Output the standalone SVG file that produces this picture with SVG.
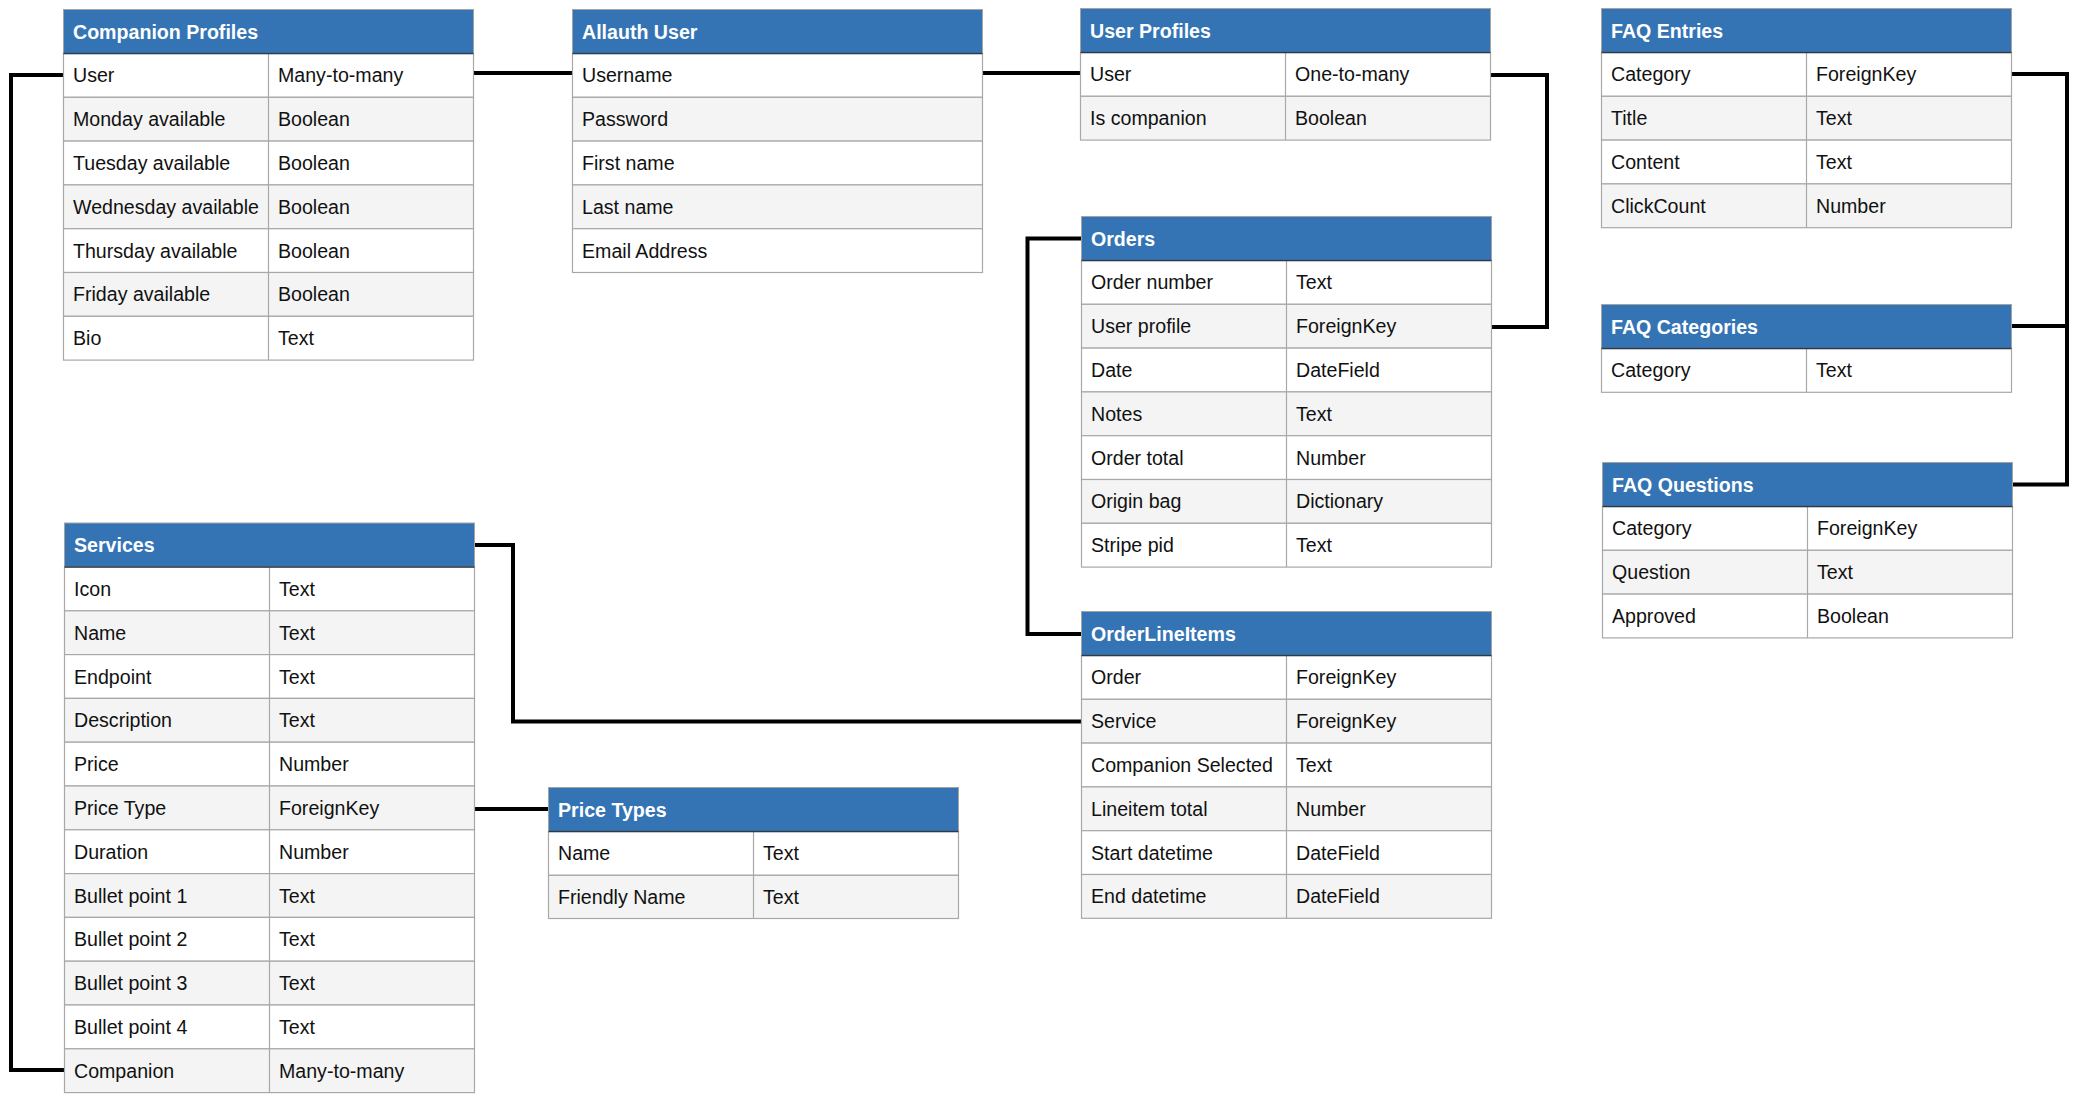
<svg xmlns="http://www.w3.org/2000/svg" width="2080" height="1106" viewBox="0 0 2080 1106">
<style>
.hdr{fill:#3474b5;stroke:#a3a3a3;stroke-width:1}
.hl{stroke:#2d3a48;stroke-width:1.3}
.ra{fill:#ffffff;stroke:#a8a8a8;stroke-width:1.2}
.rb{fill:#f4f4f4;stroke:#a8a8a8;stroke-width:1.2}
.dv{stroke:#a8a8a8;stroke-width:1.2}
.ht{font-family:"Liberation Sans",Arial,Helvetica,sans-serif;font-size:19.6px;font-weight:bold;fill:#ffffff}
.t{font-family:"Liberation Sans",Arial,Helvetica,sans-serif;font-size:19.6px;fill:#111111}
.c{fill:none;stroke:#000000;stroke-width:4;stroke-linejoin:miter}
</style>
<rect width="2080" height="1106" fill="#ffffff"/>
<g id="connectors">
<path class="c" d="M63,75 H11 V1070 H64"/>
<path class="c" d="M473,73 H572"/>
<path class="c" d="M983,73 H1080"/>
<path class="c" d="M1491,75 H1547 V327 H1491"/>
<path class="c" d="M1081,238.5 H1027.5 V634 H1081"/>
<path class="c" d="M474,545 H513 V721.5 H1081"/>
<path class="c" d="M474,809 H548"/>
<path class="c" d="M2012,74 H2067 V484.5 H2012"/>
<path class="c" d="M2011,326 H2067"/>
</g>
<g id="companion-profiles" transform="translate(63.5,9.5)">
<rect class="hdr" width="410" height="44"/>
<rect class="ra" y="44" width="410" height="43.8"/>
<rect class="rb" y="87.8" width="410" height="43.8"/>
<rect class="ra" y="131.6" width="410" height="43.8"/>
<rect class="rb" y="175.4" width="410" height="43.8"/>
<rect class="ra" y="219.2" width="410" height="43.8"/>
<rect class="rb" y="263" width="410" height="43.8"/>
<rect class="ra" y="306.8" width="410" height="43.8"/>
<line class="dv" x1="205" y1="44" x2="205" y2="350.6"/>
<line class="hl" x1="0" y1="44" x2="410" y2="44"/>
<text class="ht" x="9.5" y="29">Companion Profiles</text>
<text class="t" x="9.5" y="72.9">User</text><text class="t" x="214.5" y="72.9">Many-to-many</text>
<text class="t" x="9.5" y="116.7">Monday available</text><text class="t" x="214.5" y="116.7">Boolean</text>
<text class="t" x="9.5" y="160.5">Tuesday available</text><text class="t" x="214.5" y="160.5">Boolean</text>
<text class="t" x="9.5" y="204.3">Wednesday available</text><text class="t" x="214.5" y="204.3">Boolean</text>
<text class="t" x="9.5" y="248.1">Thursday available</text><text class="t" x="214.5" y="248.1">Boolean</text>
<text class="t" x="9.5" y="291.9">Friday available</text><text class="t" x="214.5" y="291.9">Boolean</text>
<text class="t" x="9.5" y="335.7">Bio</text><text class="t" x="214.5" y="335.7">Text</text>
</g>
<g id="allauth-user" transform="translate(572.5,9.5)">
<rect class="hdr" width="410" height="44"/>
<rect class="ra" y="44" width="410" height="43.8"/>
<rect class="rb" y="87.8" width="410" height="43.8"/>
<rect class="ra" y="131.6" width="410" height="43.8"/>
<rect class="rb" y="175.4" width="410" height="43.8"/>
<rect class="ra" y="219.2" width="410" height="43.8"/>
<line class="hl" x1="0" y1="44" x2="410" y2="44"/>
<text class="ht" x="9.5" y="29">Allauth User</text>
<text class="t" x="9.5" y="72.9">Username</text>
<text class="t" x="9.5" y="116.7">Password</text>
<text class="t" x="9.5" y="160.5">First name</text>
<text class="t" x="9.5" y="204.3">Last name</text>
<text class="t" x="9.5" y="248.1">Email Address</text>
</g>
<g id="user-profiles" transform="translate(1080.5,8.5)">
<rect class="hdr" width="410" height="44"/>
<rect class="ra" y="44" width="410" height="43.8"/>
<rect class="rb" y="87.8" width="410" height="43.8"/>
<line class="dv" x1="205" y1="44" x2="205" y2="131.6"/>
<line class="hl" x1="0" y1="44" x2="410" y2="44"/>
<text class="ht" x="9.5" y="29">User Profiles</text>
<text class="t" x="9.5" y="72.9">User</text><text class="t" x="214.5" y="72.9">One-to-many</text>
<text class="t" x="9.5" y="116.7">Is companion</text><text class="t" x="214.5" y="116.7">Boolean</text>
</g>
<g id="orders" transform="translate(1081.5,216.5)">
<rect class="hdr" width="410" height="44"/>
<rect class="ra" y="44" width="410" height="43.8"/>
<rect class="rb" y="87.8" width="410" height="43.8"/>
<rect class="ra" y="131.6" width="410" height="43.8"/>
<rect class="rb" y="175.4" width="410" height="43.8"/>
<rect class="ra" y="219.2" width="410" height="43.8"/>
<rect class="rb" y="263" width="410" height="43.8"/>
<rect class="ra" y="306.8" width="410" height="43.8"/>
<line class="dv" x1="205" y1="44" x2="205" y2="350.6"/>
<line class="hl" x1="0" y1="44" x2="410" y2="44"/>
<text class="ht" x="9.5" y="29">Orders</text>
<text class="t" x="9.5" y="72.9">Order number</text><text class="t" x="214.5" y="72.9">Text</text>
<text class="t" x="9.5" y="116.7">User profile</text><text class="t" x="214.5" y="116.7">ForeignKey</text>
<text class="t" x="9.5" y="160.5">Date</text><text class="t" x="214.5" y="160.5">DateField</text>
<text class="t" x="9.5" y="204.3">Notes</text><text class="t" x="214.5" y="204.3">Text</text>
<text class="t" x="9.5" y="248.1">Order total</text><text class="t" x="214.5" y="248.1">Number</text>
<text class="t" x="9.5" y="291.9">Origin bag</text><text class="t" x="214.5" y="291.9">Dictionary</text>
<text class="t" x="9.5" y="335.7">Stripe pid</text><text class="t" x="214.5" y="335.7">Text</text>
</g>
<g id="order-line-items" transform="translate(1081.5,611.5)">
<rect class="hdr" width="410" height="44"/>
<rect class="ra" y="44" width="410" height="43.8"/>
<rect class="rb" y="87.8" width="410" height="43.8"/>
<rect class="ra" y="131.6" width="410" height="43.8"/>
<rect class="rb" y="175.4" width="410" height="43.8"/>
<rect class="ra" y="219.2" width="410" height="43.8"/>
<rect class="rb" y="263" width="410" height="43.8"/>
<line class="dv" x1="205" y1="44" x2="205" y2="306.8"/>
<line class="hl" x1="0" y1="44" x2="410" y2="44"/>
<text class="ht" x="9.5" y="29">OrderLineItems</text>
<text class="t" x="9.5" y="72.9">Order</text><text class="t" x="214.5" y="72.9">ForeignKey</text>
<text class="t" x="9.5" y="116.7">Service</text><text class="t" x="214.5" y="116.7">ForeignKey</text>
<text class="t" x="9.5" y="160.5">Companion Selected</text><text class="t" x="214.5" y="160.5">Text</text>
<text class="t" x="9.5" y="204.3">Lineitem total</text><text class="t" x="214.5" y="204.3">Number</text>
<text class="t" x="9.5" y="248.1">Start datetime</text><text class="t" x="214.5" y="248.1">DateField</text>
<text class="t" x="9.5" y="291.9">End datetime</text><text class="t" x="214.5" y="291.9">DateField</text>
</g>
<g id="faq-entries" transform="translate(1601.5,8.5)">
<rect class="hdr" width="410" height="44"/>
<rect class="ra" y="44" width="410" height="43.8"/>
<rect class="rb" y="87.8" width="410" height="43.8"/>
<rect class="ra" y="131.6" width="410" height="43.8"/>
<rect class="rb" y="175.4" width="410" height="43.8"/>
<line class="dv" x1="205" y1="44" x2="205" y2="219.2"/>
<line class="hl" x1="0" y1="44" x2="410" y2="44"/>
<text class="ht" x="9.5" y="29">FAQ Entries</text>
<text class="t" x="9.5" y="72.9">Category</text><text class="t" x="214.5" y="72.9">ForeignKey</text>
<text class="t" x="9.5" y="116.7">Title</text><text class="t" x="214.5" y="116.7">Text</text>
<text class="t" x="9.5" y="160.5">Content</text><text class="t" x="214.5" y="160.5">Text</text>
<text class="t" x="9.5" y="204.3">ClickCount</text><text class="t" x="214.5" y="204.3">Number</text>
</g>
<g id="faq-categories" transform="translate(1601.5,304.5)">
<rect class="hdr" width="410" height="44"/>
<rect class="ra" y="44" width="410" height="43.8"/>
<line class="dv" x1="205" y1="44" x2="205" y2="87.8"/>
<line class="hl" x1="0" y1="44" x2="410" y2="44"/>
<text class="ht" x="9.5" y="29">FAQ Categories</text>
<text class="t" x="9.5" y="72.9">Category</text><text class="t" x="214.5" y="72.9">Text</text>
</g>
<g id="faq-questions" transform="translate(1602.5,462.5)">
<rect class="hdr" width="410" height="44"/>
<rect class="ra" y="44" width="410" height="43.8"/>
<rect class="rb" y="87.8" width="410" height="43.8"/>
<rect class="ra" y="131.6" width="410" height="43.8"/>
<line class="dv" x1="205" y1="44" x2="205" y2="175.4"/>
<line class="hl" x1="0" y1="44" x2="410" y2="44"/>
<text class="ht" x="9.5" y="29">FAQ Questions</text>
<text class="t" x="9.5" y="72.9">Category</text><text class="t" x="214.5" y="72.9">ForeignKey</text>
<text class="t" x="9.5" y="116.7">Question</text><text class="t" x="214.5" y="116.7">Text</text>
<text class="t" x="9.5" y="160.5">Approved</text><text class="t" x="214.5" y="160.5">Boolean</text>
</g>
<g id="services" transform="translate(64.5,523)">
<rect class="hdr" width="410" height="44"/>
<rect class="ra" y="44" width="410" height="43.8"/>
<rect class="rb" y="87.8" width="410" height="43.8"/>
<rect class="ra" y="131.6" width="410" height="43.8"/>
<rect class="rb" y="175.4" width="410" height="43.8"/>
<rect class="ra" y="219.2" width="410" height="43.8"/>
<rect class="rb" y="263" width="410" height="43.8"/>
<rect class="ra" y="306.8" width="410" height="43.8"/>
<rect class="rb" y="350.6" width="410" height="43.8"/>
<rect class="ra" y="394.4" width="410" height="43.8"/>
<rect class="rb" y="438.2" width="410" height="43.8"/>
<rect class="ra" y="482" width="410" height="43.8"/>
<rect class="rb" y="525.8" width="410" height="43.8"/>
<line class="dv" x1="205" y1="44" x2="205" y2="569.6"/>
<line class="hl" x1="0" y1="44" x2="410" y2="44"/>
<text class="ht" x="9.5" y="29">Services</text>
<text class="t" x="9.5" y="72.9">Icon</text><text class="t" x="214.5" y="72.9">Text</text>
<text class="t" x="9.5" y="116.7">Name</text><text class="t" x="214.5" y="116.7">Text</text>
<text class="t" x="9.5" y="160.5">Endpoint</text><text class="t" x="214.5" y="160.5">Text</text>
<text class="t" x="9.5" y="204.3">Description</text><text class="t" x="214.5" y="204.3">Text</text>
<text class="t" x="9.5" y="248.1">Price</text><text class="t" x="214.5" y="248.1">Number</text>
<text class="t" x="9.5" y="291.9">Price Type</text><text class="t" x="214.5" y="291.9">ForeignKey</text>
<text class="t" x="9.5" y="335.7">Duration</text><text class="t" x="214.5" y="335.7">Number</text>
<text class="t" x="9.5" y="379.5">Bullet point 1</text><text class="t" x="214.5" y="379.5">Text</text>
<text class="t" x="9.5" y="423.3">Bullet point 2</text><text class="t" x="214.5" y="423.3">Text</text>
<text class="t" x="9.5" y="467.1">Bullet point 3</text><text class="t" x="214.5" y="467.1">Text</text>
<text class="t" x="9.5" y="510.9">Bullet point 4</text><text class="t" x="214.5" y="510.9">Text</text>
<text class="t" x="9.5" y="554.7">Companion</text><text class="t" x="214.5" y="554.7">Many-to-many</text>
</g>
<g id="price-types" transform="translate(548.5,787.5)">
<rect class="hdr" width="410" height="44"/>
<rect class="ra" y="44" width="410" height="43.8"/>
<rect class="rb" y="87.8" width="410" height="43.2"/>
<line class="dv" x1="205" y1="44" x2="205" y2="131"/>
<line class="hl" x1="0" y1="44" x2="410" y2="44"/>
<text class="ht" x="9.5" y="29">Price Types</text>
<text class="t" x="9.5" y="72.9">Name</text><text class="t" x="214.5" y="72.9">Text</text>
<text class="t" x="9.5" y="116.7">Friendly Name</text><text class="t" x="214.5" y="116.7">Text</text>
</g>
</svg>
